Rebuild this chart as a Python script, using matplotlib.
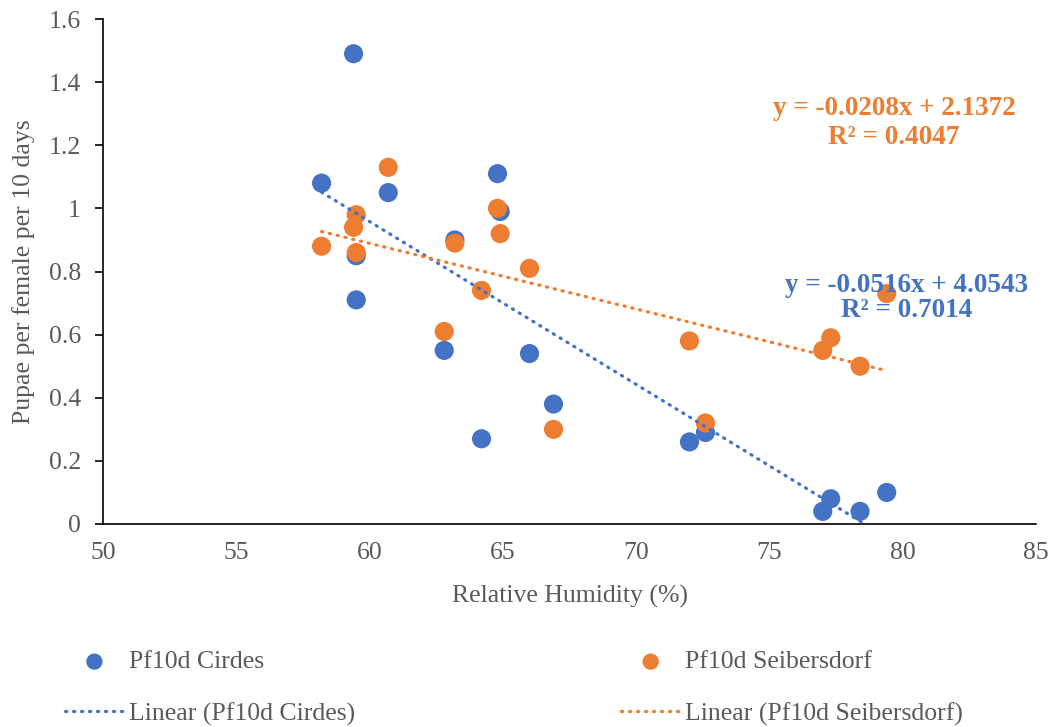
import matplotlib.pyplot as plt
import matplotlib.ticker as mticker
import numpy as np

plt.rcParams['font.family'] = ['Liberation Serif', 'DejaVu Serif']

# relative humidity (%) for each sample
rh = [59.4, 58.2, 60.7, 64.8, 64.9, 63.2, 59.5, 59.5, 62.8,
      66.0, 66.9, 64.2, 72.0, 72.6, 77.0, 77.3, 78.4, 79.4]
pf10d_cirdes = [1.49, 1.08, 1.05, 1.11, 0.99, 0.90, 0.85, 0.71, 0.55,
                0.54, 0.38, 0.27, 0.26, 0.29, 0.04, 0.08, 0.04, 0.10]
pf10d_seib = [0.94, 0.88, 1.13, 1.00, 0.92, 0.89, 0.98, 0.86, 0.61,
              0.81, 0.30, 0.74, 0.58, 0.32, 0.55, 0.59, 0.50, 0.73]

# trendline coefficients as printed on the chart
fit_cirdes = (-0.0516, 4.0543, 0.7014)
fit_seib = (-0.0208, 2.1372, 0.4047)

blue = '#4472C4'
orange = '#ED7D31'
grey = '#595959'
fs = 18.5

fig = plt.figure(figsize=(10.62, 7.27), dpi=100)
ax = fig.add_axes([103/1062, 1-524/727, (1036-103)/1062, (524-19)/727])

sc1 = ax.scatter(rh, pf10d_cirdes, s=190, color=blue, edgecolors='none', zorder=3,
                 label='Pf10d Cirdes')
sc2 = ax.scatter(rh, pf10d_seib, s=190, color=orange, edgecolors='none', zorder=4,
                 label='Pf10d Seibersdorf')

dots = (0, (0.4, 2.1))
xs = np.linspace(min(rh), max(rh), 100)
ln1, = ax.plot(xs, fit_cirdes[0]*xs + fit_cirdes[1], color=blue, lw=2.3,
               linestyle=dots, dash_capstyle='round', zorder=5,
               label='Linear (Pf10d Cirdes)')
ln2, = ax.plot(xs, fit_seib[0]*xs + fit_seib[1], color=orange, lw=2.3,
               linestyle=dots, dash_capstyle='round', zorder=5,
               label='Linear (Pf10d Seibersdorf)')

ax.text(0.848, 0.794, 'y = %.4fx + %.4f\nR² = %.4f' % fit_seib, transform=ax.transAxes,
        ha='center', va='center', color=orange, fontsize=19.5, fontweight='bold',
        linespacing=1.18, zorder=6)
ax.text(0.861, 0.4475, 'y = %.4fx + %.4f\nR² = %.4f' % fit_cirdes, transform=ax.transAxes,
        ha='center', va='center', color=blue, fontsize=19.5, fontweight='bold',
        linespacing=1.04, zorder=6)

ax.set_xlim(50, 85)
ax.set_ylim(0, 1.6)
ax.set_xticks(np.arange(50, 86, 5))
ax.set_yticks(np.arange(0, 1.61, 0.2))
ax.yaxis.set_major_formatter(mticker.FuncFormatter(lambda v, p: '%g' % round(v, 1)))

for s in ['top', 'right']:
    ax.spines[s].set_visible(False)
for s in ['left', 'bottom']:
    ax.spines[s].set_color('black')
    ax.spines[s].set_linewidth(1.2)

ax.tick_params(axis='x', length=0, pad=13, labelsize=fs, labelcolor=grey)
ax.tick_params(axis='y', length=6, width=1.2, pad=10, labelsize=fs, labelcolor=grey)

ax.set_xlabel('Relative Humidity (%)', fontsize=fs, color=grey, labelpad=15)
ax.set_ylabel('Pupae per female per 10 days', fontsize=fs, color=grey, labelpad=10)

fig.legend(handles=[sc1, ln1, sc2, ln2], loc='center left',
           bbox_to_anchor=(52/1062, 1-688/727), ncol=2, frameon=False,
           fontsize=fs, labelcolor=grey, handlelength=2.3, handletextpad=0.2,
           columnspacing=10.35, labelspacing=1.12, markerscale=0.85, borderpad=0)

fig.savefig('out.png', dpi=100)
